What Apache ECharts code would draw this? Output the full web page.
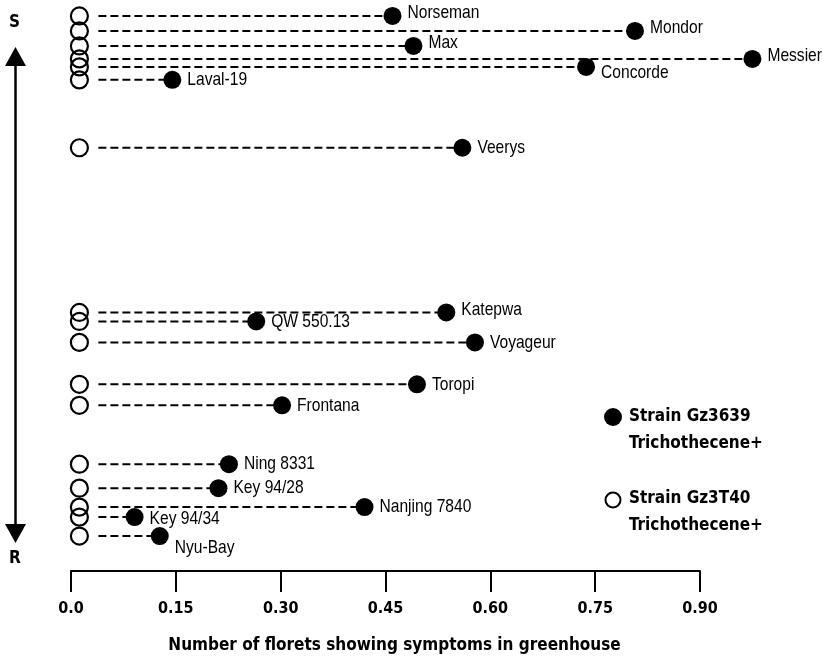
<!DOCTYPE html>
<html>
<head>
<meta charset="utf-8">
<script src="https://cdn.jsdelivr.net/npm/echarts@6/dist/echarts.min.js"></script>
<style>
  html, body { margin: 0; padding: 0; background: #fff; }
  #main { width: 823px; height: 659px; }
</style>
</head>
<body>
<div id="main"></div>
<script>
// cultivars, top (susceptible) to bottom (resistant)
const cultivars = ['Norseman', 'Mondor', 'Max', 'Messier', 'Concorde', 'Laval-19', 'Veerys',
  'Katepwa', 'QW 550.13', 'Voyageur', 'Toropi', 'Frontana',
  'Ning 8331', 'Key 94/28', 'Nanjing 7840', 'Key 94/34', 'Nyu-Bay'];
// position on the S -> R scale
const ranks = [1.6, 3.1, 4.6, 5.9, 6.7, 8.0, 14.8,
  31.3, 32.2, 34.3, 38.5, 40.6,
  46.5, 48.9, 50.8, 51.8, 53.7];
// strain Gz3639 (trichothecene+), filled dots
const gz3639 = [0.46, 0.807, 0.49, 0.975, 0.737, 0.145, 0.56,
  0.537, 0.265, 0.578, 0.495, 0.302,
  0.226, 0.211, 0.42, 0.091, 0.127];
// strain Gz3T40, open circles
const gz3t40 = [0.012, 0.012, 0.012, 0.012, 0.012, 0.012, 0.012,
  0.012, 0.012, 0.012, 0.012, 0.012,
  0.012, 0.012, 0.012, 0.012, 0.012];
const tickLabels = ['0.0', '0.15', '0.30', '0.45', '0.60', '0.75', '0.90'];

const nameFont = "19px 'Liberation Sans', Arial, sans-serif";
const boldFont = "'DejaVu Sans Condensed', 'DejaVu Sans', sans-serif";
const raised = ['Norseman', 'Mondor', 'Max', 'Messier', 'Katepwa'];
const lowered = { 'Concorde': 6, 'Nyu-Bay': 12, 'Key 94/34': 2 };

const chart = echarts.init(document.getElementById('main'));

const option = {
  animation: false,
  backgroundColor: '#fff',
  grid: { left: 71, right: 123, top: 0, bottom: 87 },
  xAxis: {
    type: 'value',
    position: 'bottom',
    min: 0,
    max: 0.9,
    interval: 0.15,
    name: 'Number of florets showing symptoms in greenhouse',
    nameLocation: 'middle',
    nameGap: 66,
    nameTextStyle: { fontFamily: boldFont, fontWeight: 'bold', fontSize: 17, color: '#000', padding: [0, 0, 0, 18] },
    axisLine: { onZero: false, lineStyle: { color: '#000', width: 2 } },
    axisTick: { length: 21, lineStyle: { color: '#000', width: 2 } },
    axisLabel: {
      margin: 30,
      fontFamily: boldFont, fontWeight: 'bold', fontSize: 16, color: '#000',
      formatter: (v) => tickLabels[Math.round(v / 0.15)]
    },
    splitLine: { show: false }
  },
  yAxis: { type: 'value', inverse: true, min: 0, max: 57.2, show: false },
  series: [
    {
      // dashed connector between the two strains, plus the cultivar name
      type: 'custom',
      clip: false,
      data: cultivars.map((c, i) => [gz3t40[i], gz3639[i], ranks[i]]),
      renderItem: function (params, api) {
        const name = cultivars[params.dataIndex];
        const a = api.coord([api.value(0), api.value(2)]);
        const b = api.coord([api.value(1), api.value(2)]);
        let dy = 0;
        if (raised.indexOf(name) >= 0) dy = -3;
        if (lowered[name] !== undefined) dy = lowered[name];
        return {
          type: 'group',
          children: [
            {
              type: 'line',
              shape: { x1: a[0] + 19, y1: a[1], x2: b[0], y2: b[1] },
              style: { stroke: '#000', lineWidth: 2, lineDash: [8, 4] }
            },
            {
              type: 'text',
              x: b[0] + 15,
              y: b[1] + dy,
              scaleX: 0.82,
              z2: 10,
              style: { text: name, x: 0, y: 0, font: nameFont, fill: '#000', verticalAlign: 'middle', align: 'left' }
            }
          ]
        };
      },
      z: 1
    },
    {
      name: 'Strain Gz3T40',
      type: 'scatter',
      clip: false,
      symbolSize: 17,
      itemStyle: { color: 'rgba(0,0,0,0)', borderColor: '#000', borderWidth: 2.2, opacity: 1 },
      data: cultivars.map((c, i) => [gz3t40[i], ranks[i]]),
      z: 2
    },
    {
      name: 'Strain Gz3639',
      type: 'scatter',
      clip: false,
      symbolSize: 18,
      itemStyle: { color: '#000', opacity: 1 },
      data: cultivars.map((c, i) => [gz3639[i], ranks[i]]),
      z: 3
    }
  ],
  graphic: [
    // S -> R arrow on the left
    { type: 'text', left: 9, top: 14, style: { text: 'S', font: 'bold 17px ' + boldFont, fill: '#000' } },
    { type: 'line', shape: { x1: 15.5, y1: 62, x2: 15.5, y2: 528 }, style: { stroke: '#000', lineWidth: 2.5 } },
    { type: 'polygon', shape: { points: [[15.5, 47], [5, 66], [26, 66]] }, style: { fill: '#000' } },
    { type: 'polygon', shape: { points: [[15.5, 543], [5, 524], [26, 524]] }, style: { fill: '#000' } },
    { type: 'text', left: 9, top: 550, style: { text: 'R', font: 'bold 17px ' + boldFont, fill: '#000' } },
    // legend
    { type: 'circle', shape: { cx: 613, cy: 417, r: 9 }, style: { fill: '#000' } },
    { type: 'text', left: 629, top: 403, style: { text: 'Strain Gz3639\nTrichothecene+', font: 'bold 17px ' + boldFont, lineHeight: 27, fill: '#000' } },
    { type: 'circle', shape: { cx: 613, cy: 500, r: 7.5 }, style: { fill: 'none', stroke: '#000', lineWidth: 2 } },
    { type: 'text', left: 629, top: 485, style: { text: 'Strain Gz3T40\nTrichothecene+', font: 'bold 17px ' + boldFont, lineHeight: 27, fill: '#000' } }
  ]
};

chart.setOption(option);
</script>
</body>
</html>
